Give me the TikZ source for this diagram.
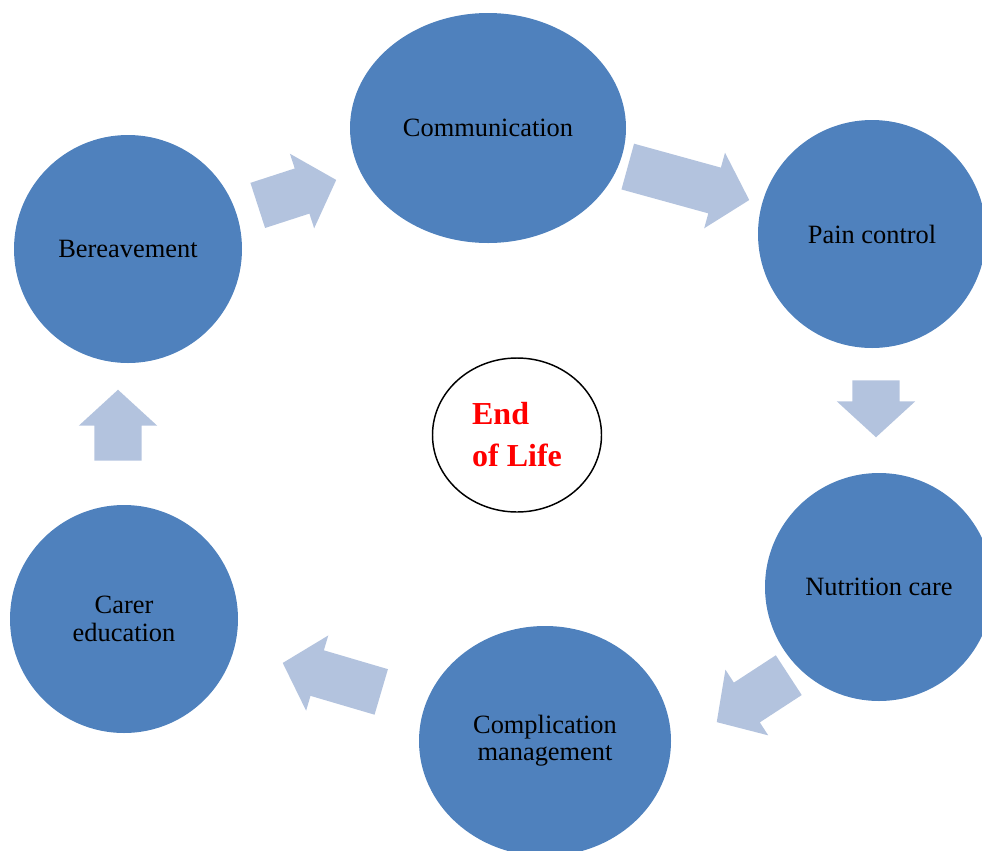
\documentclass[tikz,border=0pt]{standalone}
\usepackage{fontspec}
\setmainfont{Liberation Serif}
\usepackage{tikz}
\usetikzlibrary{positioning}
\usetikzlibrary{shapes.geometric}
\usetikzlibrary{shapes.arrows}

\definecolor{phaseblue}{RGB}{79,129,189}
\definecolor{arrowblue}{RGB}{179,195,222}
\definecolor{lifered}{RGB}{255,0,0}

\tikzset{
	phase/.style={ellipse, fill=phaseblue, draw=none, minimum width=171pt, minimum height=171pt, inner sep=0pt, align=center, text=black, font=\fontsize{19.8}{20.5}\selectfont},
	flowarrow/.style={single arrow, fill=arrowblue, draw=none, anchor=tail, inner xsep=0pt, inner ysep=17.6pt, minimum width=58.5pt, single arrow head extend=11.6pt, single arrow tip angle=95, minimum height={#1*0.75pt}}
}

\begin{document}
\begin{tikzpicture}[x=0.75pt,y=-0.75pt]
	\useasboundingbox (0,0) rectangle (982,850);
	% Phases %
	\node (comm) [phase, minimum width=207pt, minimum height=172.5pt] at (488,128) {Communication};
	\node (pain) [phase] at (872,234) {Pain control};
	\node (nutr) [phase] at (879,587) {Nutrition care};
	\node (compl) [phase, minimum width=189pt, minimum height=172.5pt] at (545,741) {Complication\\management};
	\node (carer) [phase] at (124,619) {Carer\\education};
	\node (berv) [phase] at (128,249) {Bereavement};
	% Centre %
	\node (life) [ellipse, draw=black, line width=1.1pt, minimum width=126.75pt, minimum height=115.5pt, align=left, text=lifered, font=\fontsize{24}{31.5}\bfseries\selectfont] at (517,435) {End\\of Life};
	% Arrows %
	\node (arrA) [flowarrow=82.5, rotate=18] at (257.5,205.5) {};
	\node (arrB) [flowarrow=126, rotate=-15.4] at (627.5,166.5) {};
	\node (arrC) [flowarrow=57, rotate=-90] at (876,380) {};
	\node (arrD) [flowarrow=86, rotate=-146.9] at (789,675) {};
	\node (arrE) [flowarrow=102.7, rotate=163.6] at (381.5,692) {};
	\node (arrF) [flowarrow=71, rotate=90] at (118,461) {};
\end{tikzpicture}
\end{document}
